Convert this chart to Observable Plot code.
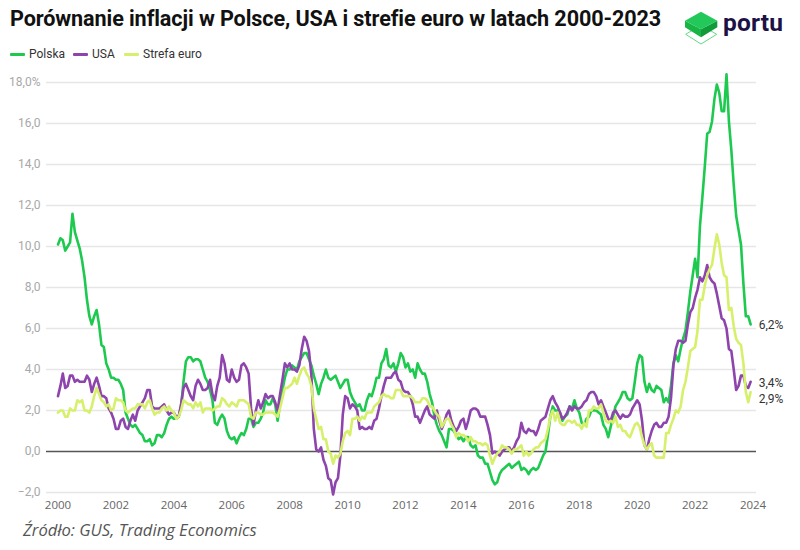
<!DOCTYPE html>
<html>
<head>
<meta charset="utf-8">
<script src="https://cdn.jsdelivr.net/npm/d3@7"></script>
<script src="https://cdn.jsdelivr.net/npm/@observablehq/plot@0.6"></script>
<style>
  html, body { margin: 0; padding: 0; background: #fff; }
  body { width: 800px; height: 550px; position: relative; overflow: hidden; font-family: Roboto, "Noto Sans", sans-serif; }
  #header { position: relative; height: 64px; }
  #title { position: absolute; left: 10px; top: 6px; font: 700 21.6px Roboto, sans-serif; color: #111; white-space: nowrap; letter-spacing: -0.1px; }
  #logo { position: absolute; left: 683px; top: 8px; }
  .leg { position: absolute; top: 46px; height: 16px; font: 400 12px Roboto, sans-serif; color: #333; display: flex; align-items: center; white-space: nowrap; }
  .leg i { display: inline-block; width: 15px; height: 3px; border-radius: 1px; margin-right: 4px; }
  #chart svg { display: block; }
  #caption { position: absolute; left: 23px; top: 518px; font: italic 400 16.6px "Open Sans", sans-serif; color: #555; }
  g[aria-label="x-axis tick label"] text { fill: #666; font-family: "Open Sans", sans-serif; font-size: 11.5px; }
  g[aria-label="y-axis tick label"] text { fill: #a8a8a8; font-family: Roboto, sans-serif; font-size: 12px; }
  g[aria-label="text"] text { fill: #333; font-family: Roboto, sans-serif; font-size: 12px; }
</style>
</head>
<body>
<div id="header">
  <div id="title">Porównanie inflacji w Polsce, USA i strefie euro w latach 2000-2023</div>
  <svg id="logo" width="110" height="40" viewBox="683 8 110 40">
    <polygon points="685.7,34.3 701,25 716.7,34.3 701,44" fill="none" stroke="#5fdc85" stroke-width="1"/>
    <polygon points="685,20.7 701,29.3 701,37.3 685,27.3" fill="#17b545"/>
    <polygon points="717.3,20.7 701,29.3 701,37.3 717.3,27.3" fill="#119a3a"/>
    <polygon points="701,11.7 717.3,20.7 701,29.3 685,20.7" fill="#22c95a"/>
    <text x="723" y="30.5" font-family="Roboto, sans-serif" font-weight="700" font-size="24.5" fill="#1d1245" letter-spacing="0.2">portu</text>
  </svg>
  <div class="leg" style="left:10px"><i style="background:#1ec94f"></i>Polska</div>
  <div class="leg" style="left:73px"><i style="background:#8e44ad"></i>USA</div>
  <div class="leg" style="left:124px"><i style="background:#d6f06b"></i>Strefa euro</div>
</div>
<div id="chart"></div>
<div id="caption">Źródło: GUS, Trading Economics</div>
<script>
// Monthly year-on-year inflation, Jan 2000 – Dec 2023 (%)
const startYear = 2000;
const seriesNames = ["Polska", "USA", "Strefa euro"];
const seriesColors = ["#1ec94f", "#8e44ad", "#d6f06b"];

const polska = [
  10.1,10.4,10.3,9.8,10.0,10.2,11.6,10.7,10.3,9.9,9.3,8.5,
  7.4,6.6,6.2,6.6,6.9,6.2,5.2,5.1,4.3,4.0,3.6,3.6,
  3.5,3.5,3.3,3.0,1.9,1.6,1.3,1.2,1.3,1.1,0.9,0.8,
  0.5,0.5,0.6,0.3,0.4,0.8,0.8,0.7,0.9,1.3,1.6,1.7,
  1.6,1.6,1.7,2.2,3.4,4.4,4.6,4.6,4.4,4.5,4.5,4.4,
  4.0,3.6,3.4,3.0,2.5,1.4,1.3,1.6,1.8,1.6,1.0,0.7,
  0.6,0.7,0.4,0.7,0.9,0.8,1.1,1.6,1.6,1.2,1.4,1.4,
  1.6,1.9,2.5,2.3,2.3,2.6,2.3,1.5,2.3,3.0,3.6,4.0,
  4.0,4.2,4.1,4.0,4.4,4.6,4.8,4.8,4.5,4.2,3.7,3.3,
  2.8,3.3,3.6,4.0,3.6,3.5,3.6,3.7,3.4,3.1,3.3,3.5,
  3.5,2.9,2.6,2.4,2.2,2.3,2.0,2.0,2.5,2.8,2.7,3.1,
  3.6,3.6,4.3,4.5,5.0,4.2,4.1,4.3,3.9,4.3,4.8,4.6,
  4.1,4.3,3.9,4.0,3.6,4.3,4.0,3.8,3.8,3.4,2.8,2.4,
  1.7,1.3,1.0,0.8,0.5,0.2,1.1,1.1,1.0,0.8,0.6,0.7,
  0.5,0.7,0.7,0.3,0.2,0.3,-0.2,-0.3,-0.3,-0.6,-0.6,-1.0,
  -1.4,-1.6,-1.5,-1.1,-0.9,-0.8,-0.7,-0.6,-0.8,-0.7,-0.6,-0.5,
  -0.9,-0.8,-0.9,-1.1,-0.9,-0.8,-0.9,-0.8,-0.5,-0.2,0.0,0.8,
  1.7,2.2,2.0,2.0,1.9,1.5,1.7,1.8,2.2,2.1,2.5,2.1,
  1.9,1.4,1.3,1.6,1.7,2.0,2.0,2.0,1.9,1.8,1.3,1.1,
  0.7,1.2,1.7,2.2,2.4,2.6,2.9,2.9,2.6,2.5,2.6,3.4,
  4.3,4.7,4.6,3.4,2.9,3.3,3.0,2.9,3.2,3.1,3.0,2.4,
  2.6,2.4,3.2,4.3,4.7,4.4,5.0,5.5,5.9,6.8,7.8,8.6,
  9.4,8.5,11.0,12.4,13.9,15.5,15.6,16.1,17.2,17.9,17.5,16.6,
  16.6,18.4,16.1,14.7,13.0,11.5,10.8,10.1,8.2,6.6,6.6,6.2
];

const usa = [
  2.7,3.2,3.8,3.1,3.2,3.7,3.7,3.4,3.5,3.4,3.4,3.4,
  3.7,3.5,2.9,3.3,3.6,3.2,2.7,2.7,2.6,2.1,1.9,1.6,
  1.1,1.1,1.5,1.6,1.2,1.1,1.5,1.8,1.5,2.0,2.2,2.4,
  2.6,3.0,3.0,2.2,2.1,2.1,2.1,2.2,2.3,2.0,1.8,1.9,
  1.9,1.7,1.7,2.3,3.1,3.3,3.0,2.7,2.5,3.2,3.5,3.3,
  3.0,3.0,3.1,3.5,2.8,2.5,3.2,3.6,4.7,4.3,3.5,3.4,
  4.0,3.6,3.4,3.5,4.2,4.3,4.1,3.8,2.1,1.3,2.0,2.5,
  2.1,2.4,2.8,2.6,2.7,2.7,2.4,2.0,2.8,3.5,4.3,4.1,
  4.3,4.0,4.0,3.9,4.2,5.0,5.6,5.4,4.9,3.7,1.1,0.1,
  0.0,0.2,-0.4,-0.7,-1.3,-1.4,-2.1,-1.5,-1.3,-0.2,1.8,2.7,
  2.6,2.1,2.3,2.2,2.0,1.1,1.2,1.1,1.1,1.2,1.1,1.5,
  1.6,2.1,2.7,3.2,3.6,3.6,3.6,3.8,3.9,3.5,3.4,3.0,
  2.9,2.9,2.7,2.3,1.7,1.7,1.4,1.7,2.0,2.2,1.8,1.7,
  1.6,2.0,1.5,1.1,1.4,1.8,2.0,1.5,1.2,1.0,1.2,1.5,
  1.6,1.1,1.5,2.0,2.1,2.1,2.0,1.7,1.7,1.7,1.3,0.8,
  -0.1,0.0,-0.1,-0.2,0.0,0.1,0.2,0.2,0.0,0.2,0.5,0.7,
  1.4,1.0,0.9,1.1,1.0,1.0,0.8,1.1,1.5,1.6,1.7,2.1,
  2.5,2.7,2.4,2.2,1.9,1.6,1.7,1.9,2.2,2.0,2.2,2.1,
  2.1,2.2,2.4,2.5,2.8,2.9,2.9,2.7,2.3,2.5,2.2,1.9,
  1.6,1.5,1.9,2.0,1.8,1.6,1.8,1.7,1.7,1.8,2.1,2.3,
  2.5,2.3,1.5,0.3,0.1,0.6,1.0,1.3,1.4,1.2,1.2,1.4,
  1.4,1.7,2.6,4.2,5.0,5.4,5.4,5.3,5.4,6.2,6.8,7.0,
  7.5,7.9,8.5,8.3,8.6,9.1,8.5,8.3,8.2,7.7,7.1,6.5,
  6.4,6.0,5.0,4.9,4.0,3.0,3.2,3.7,3.7,3.2,3.1,3.4
];

const euro = [
  1.9,2.0,2.0,1.7,1.7,2.1,2.0,2.0,2.5,2.4,2.5,2.0,
  2.0,1.9,2.2,2.7,3.1,2.8,2.5,2.4,2.2,2.3,2.0,2.1,
  2.6,2.5,2.5,2.4,2.0,1.9,2.0,2.1,2.1,2.3,2.3,2.3,
  2.1,2.4,2.5,2.1,1.8,1.9,1.9,2.1,2.2,2.0,2.2,2.0,
  1.9,1.6,1.7,2.0,2.5,2.4,2.3,2.3,2.1,2.4,2.2,2.4,
  1.9,2.1,2.1,2.1,2.0,2.1,2.2,2.2,2.6,2.5,2.3,2.2,
  2.4,2.3,2.2,2.5,2.5,2.5,2.4,2.3,1.7,1.6,1.9,1.9,
  1.8,1.8,1.9,1.9,1.9,1.9,1.8,1.7,2.1,2.6,3.1,3.1,
  3.2,3.3,3.6,3.3,3.7,4.0,4.1,3.8,3.6,3.2,2.1,1.6,
  1.1,1.2,0.6,0.6,0.0,-0.1,-0.6,-0.2,-0.3,-0.1,0.5,0.9,
  1.0,0.8,1.6,1.6,1.7,1.5,1.7,1.6,1.9,1.9,1.9,2.2,
  2.3,2.4,2.7,2.8,2.7,2.7,2.6,2.6,3.0,3.0,3.0,2.7,
  2.7,2.7,2.7,2.6,2.4,2.4,2.4,2.6,2.6,2.5,2.2,2.2,
  2.0,1.8,1.7,1.2,1.4,1.6,1.6,1.3,1.1,0.7,0.9,0.8,
  0.8,0.7,0.5,0.7,0.5,0.5,0.4,0.4,0.3,0.4,0.3,-0.2,
  -0.6,-0.3,-0.1,0.0,0.3,0.2,0.2,0.1,-0.1,0.1,0.1,0.2,
  0.3,-0.2,0.0,-0.2,-0.1,0.1,0.2,0.2,0.4,0.5,0.6,1.1,
  1.7,2.0,1.5,1.9,1.4,1.3,1.3,1.5,1.5,1.4,1.5,1.3,
  1.3,1.1,1.4,1.2,2.0,2.0,2.2,2.1,2.1,2.3,1.9,1.5,
  1.4,1.5,1.4,1.7,1.2,1.3,1.0,1.0,0.8,0.7,1.0,1.3,
  1.4,1.2,0.7,0.3,0.1,0.3,0.4,-0.2,-0.3,-0.3,-0.3,-0.3,
  0.9,0.9,1.3,1.6,2.0,1.9,2.2,3.0,3.4,4.1,4.9,5.0,
  5.1,5.9,7.4,7.4,8.1,8.6,8.9,9.1,9.9,10.6,10.1,9.2,
  8.6,8.5,6.9,7.0,6.1,5.5,5.3,5.2,4.3,2.9,2.4,2.9
];

const xTickYears = [2000,2002,2004,2006,2008,2010,2012,2014,2016,2018,2020,2022,2024];
const yTickValues = [-2,0,2,4,6,8,10,12,14,16,18];

const seriesValues = [polska, usa, euro];
const rows = seriesValues.flatMap((vals, k) =>
  vals.map((v, i) => ({ s: seriesNames[k], t: startYear + i / 12, v }))
);
const lastRows = seriesValues.map((vals, k) => ({
  s: seriesNames[k],
  t: startYear + (vals.length - 1) / 12,
  v: vals[vals.length - 1],
  label: vals[vals.length - 1].toFixed(1).replace(".", ",") + "%"
}));
const fmtY = d => (d < 0 ? "\u2212" : "") + Math.abs(d).toFixed(1).replace(".", ",") + (d === 18 ? "%" : "");

const chart = Plot.plot({
  width: 800,
  height: 460,
  marginLeft: 46,
  marginRight: 44,
  marginTop: 18,
  marginBottom: 32,
  style: { fontFamily: "Roboto, sans-serif", background: "transparent" },
  x: { domain: [1999.603, 2024.119] },
  y: { domain: [-2, 18] },
  color: { domain: seriesNames, range: seriesColors },
  marks: [
    Plot.gridY(yTickValues.filter(d => d !== 0), { stroke: "#e6e6e6", strokeOpacity: 1, strokeWidth: 1.3 }),
    Plot.axisX({ ticks: xTickYears, tickSize: 0, tickPadding: 8, tickFormat: d => String(d), label: null }),
    Plot.axisY({ ticks: yTickValues, tickSize: 0, tickPadding: 6, tickFormat: fmtY, label: null }),
    Plot.ruleY([0], { stroke: "#555", strokeWidth: 1.6 }),
    Plot.line(rows, { x: "t", y: "v", z: "s", stroke: "s", strokeWidth: 2.6, strokeLinejoin: "round", strokeLinecap: "round" }),
    Plot.text(lastRows.filter(d => d.s !== "Strefa euro"), { x: "t", y: "v", text: "label", dx: 8, dy: 1, textAnchor: "start" }),
    Plot.text(lastRows.filter(d => d.s === "Strefa euro"), { x: "t", y: "v", text: "label", dx: 8, dy: 7, textAnchor: "start" })
  ]
});
document.getElementById("chart").appendChild(chart);
</script>
</body>
</html>
